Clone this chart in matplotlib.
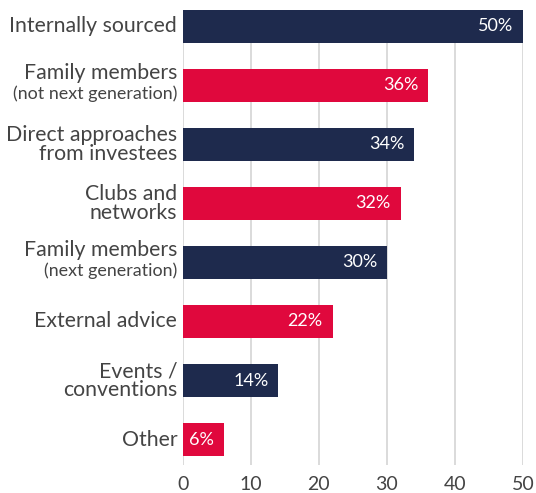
import matplotlib.pyplot as plt
import matplotlib.transforms as mtransforms

# sources of deal flow, top to bottom
mainLabels = ["Internally sourced", "Family members", "Direct approaches\nfrom investees",
              "Clubs and\nnetworks", "Family members", "External advice",
              "Events /\nconventions", "Other"]
subLabels = ["", "(not next generation)", "", "", "(next generation)", "", "", ""]
values = [50, 36, 34, 32, 30, 22, 14, 6]
ticks = [0, 10, 20, 30, 40, 50]

NAVY = "#1e2a4d"
RED = "#e0083d"
TEXT = "#444444"

plt.rcParams['font.family'] = ['Lato', 'DejaVu Sans']

fig = plt.figure(figsize=(5.36, 4.93), dpi=100)
ax = fig.add_axes([0.341, 0.057, 0.635, 0.923])

colors = [NAVY if i % 2 == 0 else RED for i in range(len(values))]
pos = list(range(len(values)))
ax.barh(pos, values, height=0.56, color=colors, zorder=2)

ax.set_ylim(7.43, -0.28)
ax.set_xlim(0, 50)
ax.set_xticks(ticks)
ax.set_xticklabels([str(t) for t in ticks], fontsize=14, color=TEXT)
ax.tick_params(axis='x', length=0, pad=8)
ax.set_yticks([])
for s in ax.spines.values():
   s.set_visible(False)
ax.grid(axis='x', color="#d4d4d4", linewidth=1.2, zorder=0)

# category labels to the left of the axis
trans = mtransforms.blended_transform_factory(ax.transAxes, ax.transData)
for i in pos:
   if subLabels[i]:
      ax.annotate(mainLabels[i], xy=(0, i), xycoords=trans, xytext=(-4, 4.5),
                  textcoords='offset points', ha='right', va='baseline',
                  fontsize=15.3, color=TEXT)
      ax.annotate(subLabels[i], xy=(0, i), xycoords=trans, xytext=(-4, -9.5),
                  textcoords='offset points', ha='right', va='baseline',
                  fontsize=12.9, color=TEXT)
   else:
      ax.annotate(mainLabels[i], xy=(0, i), xycoords=trans, xytext=(-4, 0),
                  textcoords='offset points', ha='right', va='center',
                  fontsize=15.3, color=TEXT, linespacing=0.9)

# value labels inside the bars
for i, v in zip(pos, values):
   ax.annotate(f"{v}%", xy=(v, i), xytext=(-7, 0), textcoords='offset points',
               ha='right', va='center', fontsize=13, color='white', zorder=3)

fig.savefig("out.png", dpi=100)
